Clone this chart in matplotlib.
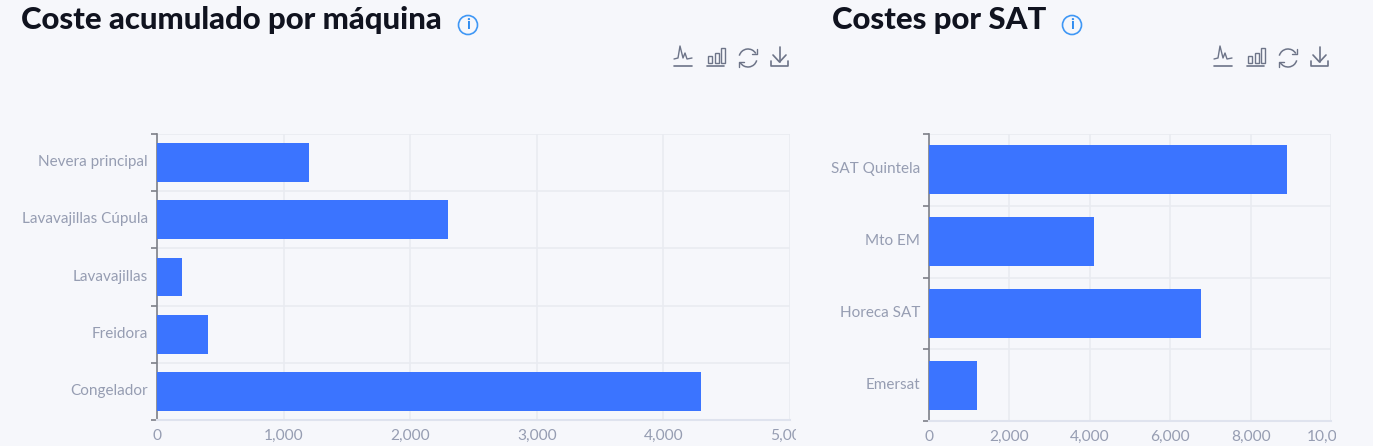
import matplotlib
matplotlib.use("Agg")
import matplotlib.pyplot as plt
from matplotlib.patches import Circle, Rectangle, Arc
from matplotlib.lines import Line2D
from matplotlib.transforms import Bbox, ScaledTranslation

W, H = 1373, 446
maquinas = ["Congelador", "Freidora", "Lavavajillas", "Lavavajillas Cúpula", "Nevera principal"]
coste_maquina = [4300, 400, 200, 2300, 1200]
sats = ["Emersat", "Horeca SAT", "Mto EM", "SAT Quintela"]
coste_sat = [1200, 6770, 4100, 8900]
ticks_maquina = [0, 1000, 2000, 3000, 4000, 5000]
ticks_sat = [0, 2000, 4000, 6000, 8000, 10000]

BG = "#f6f7fb"
BAR = "#3b74ff"
LABEL = "#969db2"
GRID = "#e9ebf1"
ICON = "#6d7488"
plt.rcParams["font.family"] = ["Lato", "DejaVu Sans"]

fig = plt.figure(figsize=(W / 100, H / 100), dpi=100, facecolor=BG)


def axes_px(x0, x1, y0, y1):
    ax = fig.add_axes([x0 / W, 1 - y1 / H, (x1 - x0) / W, (y1 - y0) / H])
    ax.set_facecolor(BG)
    return ax


def panel(box, cats, vals, ticks, bar_h, clip_right):
    ax = axes_px(*box)
    ypos = list(range(len(cats)))
    ax.barh(ypos, vals, height=bar_h, color=BAR, edgecolor="none", zorder=3)
    ax.set_xlim(ticks[0], ticks[-1])
    ax.set_ylim(-0.5, len(cats) - 0.5)
    ax.set_yticks(ypos, cats)
    ax.set_yticks([i - 0.5 for i in range(len(cats) + 1)], minor=True)
    ax.set_xticks(ticks, [f"{t:,}" for t in ticks])
    ax.grid(True, which="major", axis="x", color=GRID, linewidth=1.2, zorder=0)
    ax.grid(True, which="minor", axis="y", color=GRID, linewidth=1.2, zorder=0)
    ax.tick_params(axis="y", which="major", length=0, pad=6.5, labelsize=11, labelcolor=LABEL)
    ax.tick_params(axis="y", which="minor", length=4.5, width=1.2, color="#7d8088")
    ax.tick_params(axis="x", length=0, pad=6.5, labelsize=11.2, labelcolor=LABEL)
    for s in ("top", "right"):
        ax.spines[s].set_visible(False)
    ax.spines["left"].set_color("#7d8088")
    ax.spines["left"].set_linewidth(1.2)
    ax.spines["bottom"].set_color("#dfe3ee")
    ax.spines["bottom"].set_linewidth(1.5)
    lift = ScaledTranslation(0, 2 / 100, fig.dpi_scale_trans)
    for lab in ax.get_yticklabels():
        lab.set_transform(lab.get_transform() + lift)
    clip = Bbox.from_extents(0, 0, clip_right, H)
    for lab in ax.get_xticklabels():
        lab.set_clip_box(clip)
        lab.set_clip_on(True)
    return ax


panel((157, 790, 134, 420), maquinas, coste_maquina, ticks_maquina, 0.68, 796)
panel((929, 1331, 134, 421), sats, coste_sat, ticks_sat, 0.68, 1336)

fig.text(21 / W, 1 - 20 / H, "Coste acumulado por máquina", fontsize=22.4, fontweight="black",
         color="#10131f", va="center", ha="left")
fig.text(832 / W, 1 - 20 / H, "Costes por SAT", fontsize=22.4, fontweight="black",
         color="#10131f", va="center", ha="left")

ov = fig.add_axes([0, 0, 1, 1], zorder=10)
ov.set_xlim(0, W)
ov.set_ylim(H, 0)
ov.axis("off")
ov.patch.set_alpha(0)


def info(cx, cy):
    ov.add_patch(Circle((cx, cy), 9.5, fill=False, edgecolor="#3f97f5", linewidth=1.2))
    ov.text(cx, cy, "i", color="#2f8cf0", fontsize=11, fontweight="bold", ha="center", va="center")


def line(xs, ys, lw=1.2):
    ov.add_line(Line2D(xs, ys, color=ICON, linewidth=lw, solid_capstyle="round", solid_joinstyle="round"))


def toolbar(x):
    line([x, x + 18], [66, 66])
    line([x, x + 4, x + 6, x + 9, x + 11, x + 13, x + 18],
         [59, 58, 46, 58, 53, 59, 58], 1.0)
    line([x + 33, x + 50], [66, 66])
    for dx, top in ((34, 56), (40.5, 53), (47, 48)):
        ov.add_patch(Rectangle((x + dx, top), 4, 63 - top, fill=False, edgecolor=ICON, linewidth=1.0))
    cx, cy = x + 74, 58
    ov.add_patch(Arc((cx, cy), 18, 18, theta1=195, theta2=330, edgecolor=ICON, linewidth=1.1))
    ov.add_patch(Arc((cx, cy), 18, 18, theta1=15, theta2=150, edgecolor=ICON, linewidth=1.1))
    line([cx + 4, cx + 9, cx + 9], [54, 54, 49], 1.0)
    line([cx - 9, cx - 9, cx - 4], [67, 62, 62], 1.0)
    line([x + 97, x + 97, x + 114, x + 114], [61, 66, 66, 61])
    line([x + 105.5, x + 105.5], [47, 62])
    line([x + 99, x + 105.5, x + 112], [55, 62, 55])


info(468, 25)
info(1072, 25)
toolbar(674)
toolbar(1214)

fig.savefig("out.png", dpi=100, facecolor=BG)
